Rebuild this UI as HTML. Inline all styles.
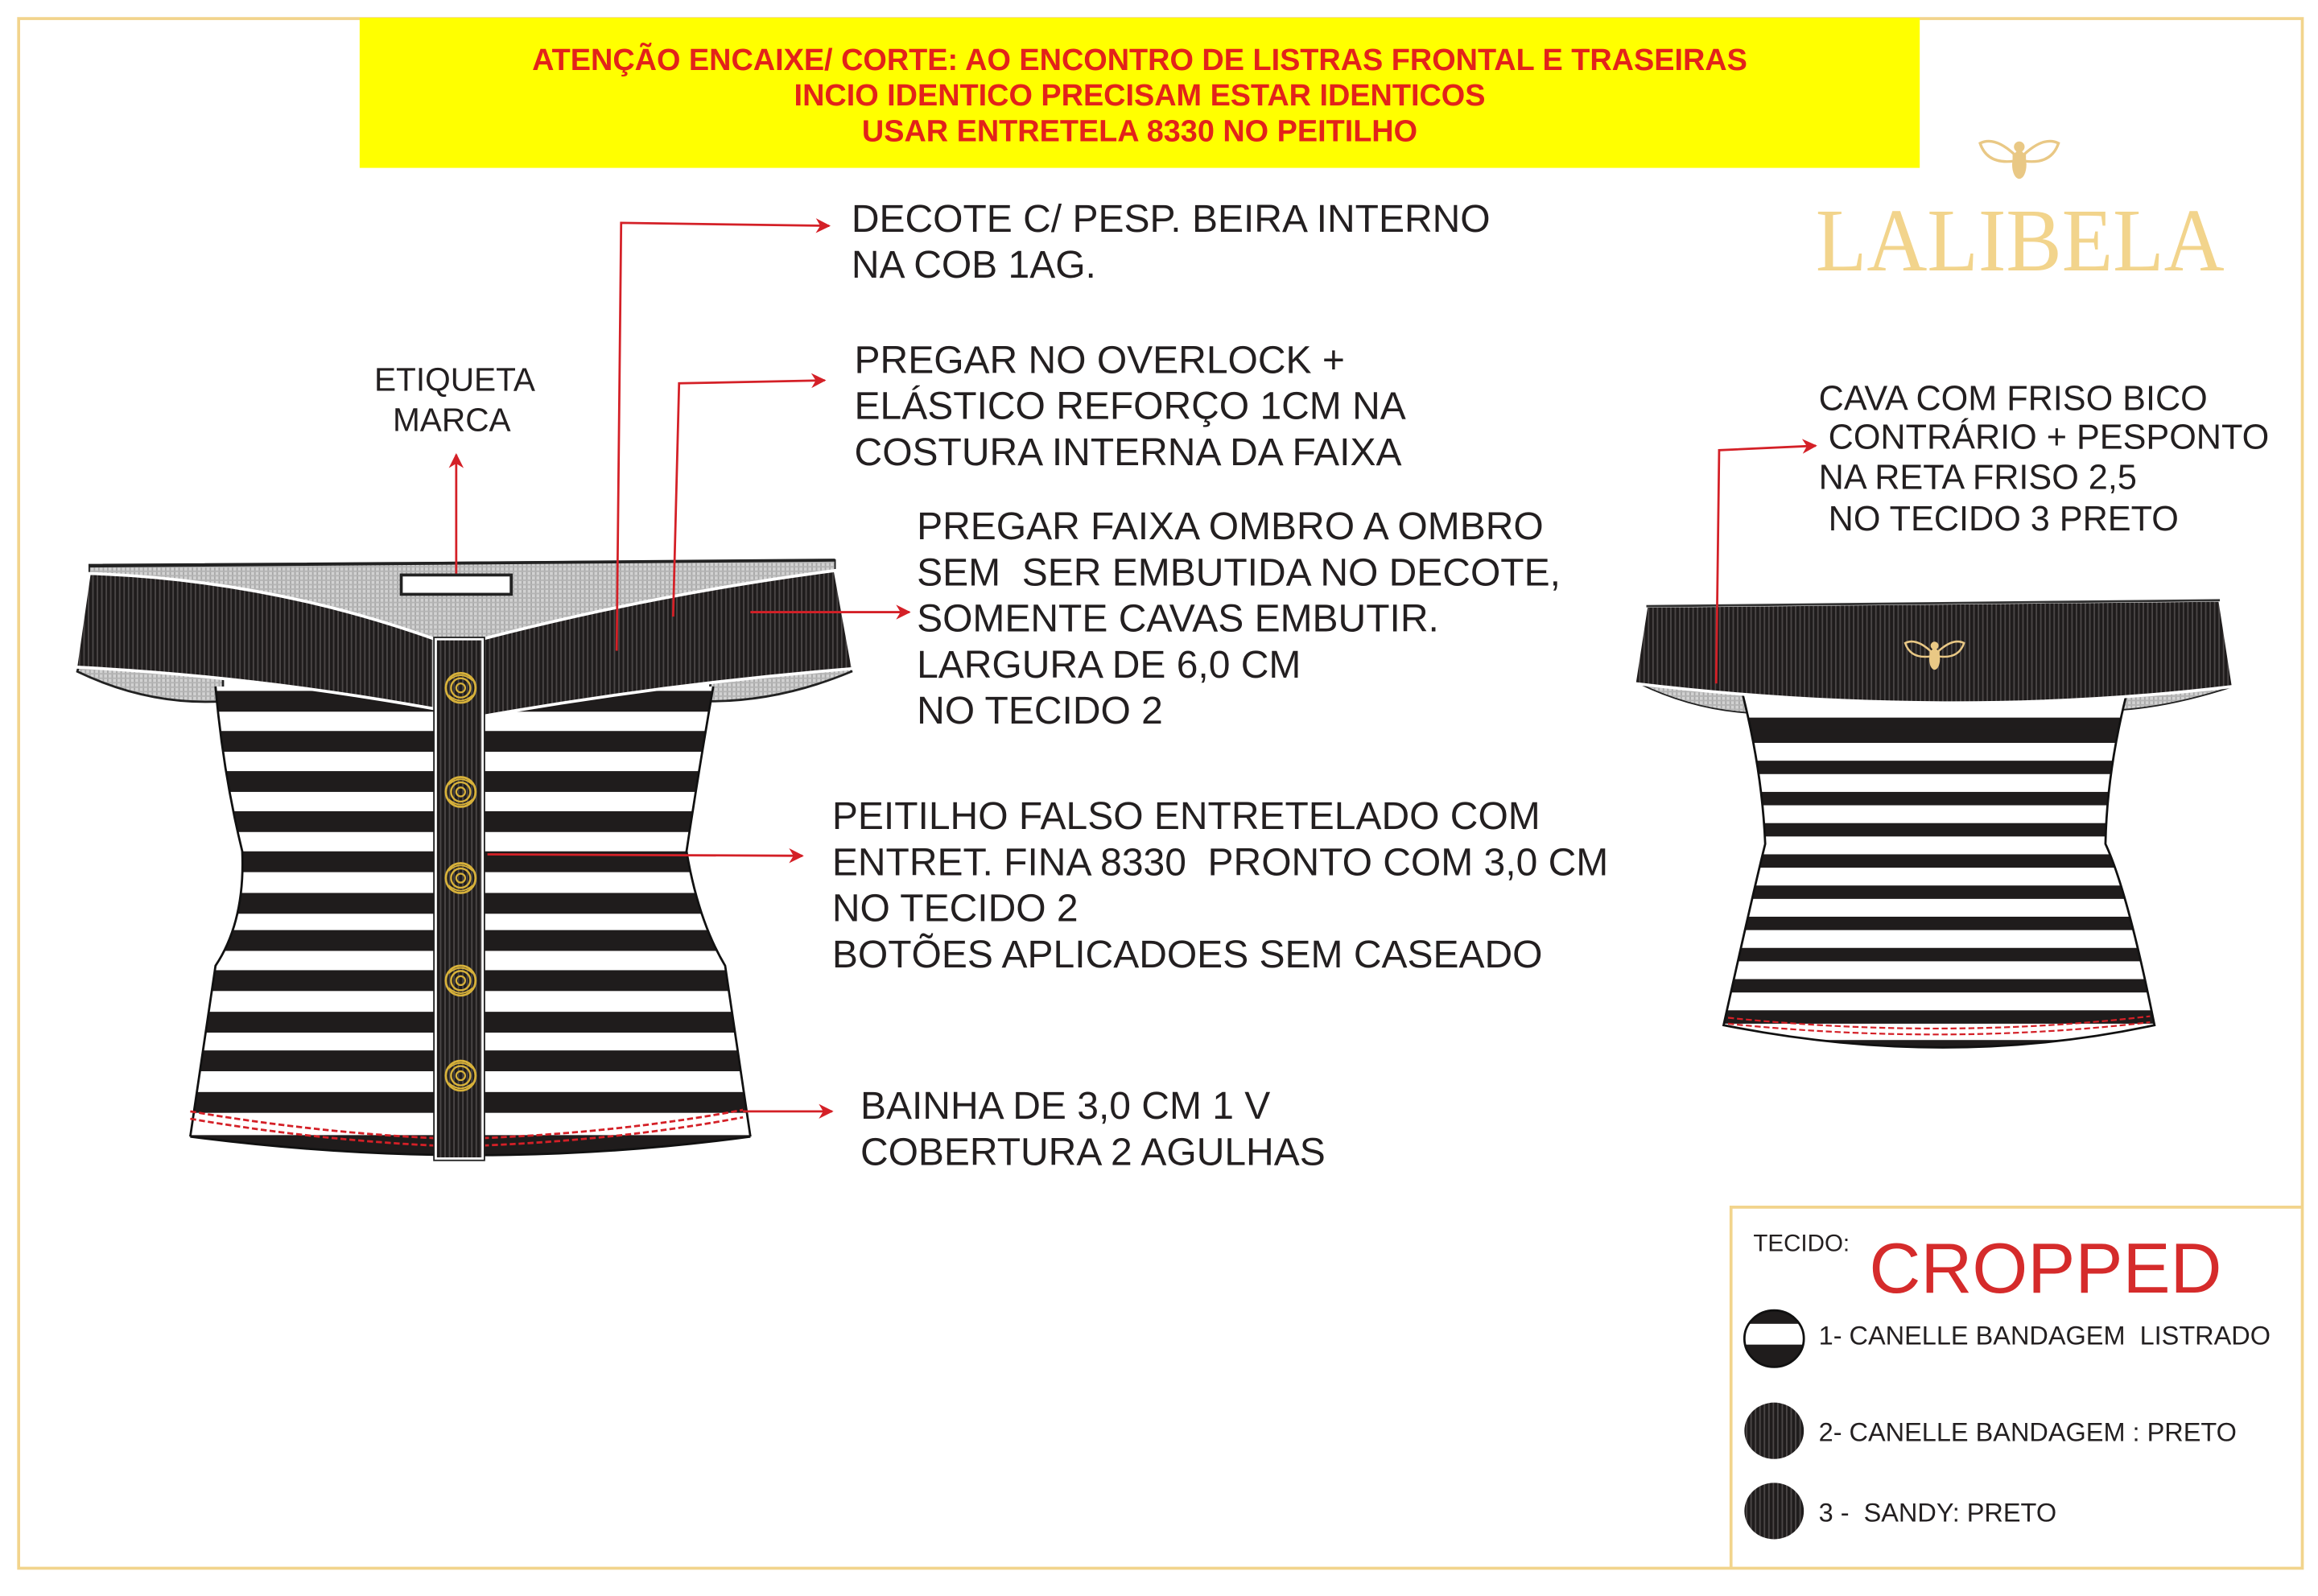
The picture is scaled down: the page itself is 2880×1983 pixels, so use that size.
<!DOCTYPE html>
<html><head><meta charset="utf-8"><style>
html,body{margin:0;padding:0;background:#fff;}
svg{display:block;}
</style></head><body>
<svg width="2880" height="1983" viewBox="0 0 1560 1074.2" xmlns="http://www.w3.org/2000/svg" font-family="Liberation Sans, sans-serif">
<defs>
<pattern id="rib" width="3" height="10" patternUnits="userSpaceOnUse">
<rect width="3" height="10" fill="#1f1c1c"/><rect x="2" width="1" height="10" fill="#4a4646"/>
</pattern>
<pattern id="grid" width="3" height="3" patternUnits="userSpaceOnUse">
<rect width="3" height="3" fill="#d2d2d2"/><rect width="1" height="3" fill="#a8a8a8"/><rect width="3" height="1" fill="#b4b4b4"/>
</pattern>
<marker id="ar" markerWidth="10" markerHeight="10" refX="9" refY="5" orient="auto" markerUnits="userSpaceOnUse">
<path d="M0,0 L10,5 L0,10 L3,5 Z" fill="#d42027"/>
</marker>
<clipPath id="bodyF"><path d="M145,462 L480,462 Q470,520 462,573 Q470,620 488,650 L505,765 Q320,790 128,765 L145,650 Q165,620 163,573 Q150,520 145,462 Z"/></clipPath>
<clipPath id="bodyB"><path d="M1173,468 L1431,468 Q1418,520 1417,568 Q1432,600 1450,690 Q1310,720 1160,690 Q1180,600 1188,568 Q1186,520 1173,468 Z"/></clipPath>
<g id="rose"><circle r="10" fill="none" stroke="#d7b13a" stroke-width="1.5"/><circle r="6.5" fill="none" stroke="#d7b13a" stroke-width="1.3"/><circle r="3" fill="none" stroke="#d7b13a" stroke-width="1.2"/><path d="M-8,-5 Q0,-12 8,-5 M-8,5 Q0,12 8,5" fill="none" stroke="#d7b13a" stroke-width="1"/></g>
<g id="bee" fill="#e9c885"><ellipse cx="0" cy="4" rx="4" ry="8"/><circle cx="0" cy="-6" r="3"/><path d="M-3,-2 Q-14,-12 -22,-8 Q-18,4 -3,2 Z M3,-2 Q14,-12 22,-8 Q18,4 3,2 Z" fill="none" stroke="#e9c885" stroke-width="1.5"/></g>
</defs>

<rect x="12.5" y="12.5" width="1537" height="1043" fill="none" stroke="#f2d48c" stroke-width="2"/>
<rect x="242" y="12" width="1050" height="101" fill="#ffff00"/>
<g font-weight="bold" font-size="20.5" fill="#e2231a" text-anchor="middle">
<text x="767" y="47">ATENÇÃO ENCAIXE/ CORTE: AO ENCONTRO DE LISTRAS FRONTAL E TRASEIRAS</text>
<text x="767" y="71">INCIO IDENTICO PRECISAM ESTAR IDENTICOS</text>
<text x="767" y="95">USAR ENTRETELA 8330 NO PEITILHO</text>
</g>

<use href="#bee" transform="translate(1359,106) scale(1.2)"/>
<text x="1222" y="182" style="font-family:'Liberation Serif',serif" font-size="60" fill="#f2d48c" textLength="275" lengthAdjust="spacingAndGlyphs">LALIBELA</text>

<path d="M52,452 Q100,475 150,472 L150,440 L60,420 Z" fill="url(#grid)" stroke="#222" stroke-width="1.5"/>
<path d="M573,452 Q525,472 478,472 L478,440 L565,420 Z" fill="url(#grid)" stroke="#222" stroke-width="1.5"/>
<g clip-path="url(#bodyF)">
<rect x="120" y="455" width="400" height="330" fill="#fff"/>
<g fill="#1f1c1c">
<rect x="120" y="465" width="400" height="14"/><rect x="120" y="492" width="400" height="14"/>
<rect x="120" y="519" width="400" height="14"/><rect x="120" y="546" width="400" height="14"/>
<rect x="120" y="573" width="400" height="14"/><rect x="120" y="601" width="400" height="14"/>
<rect x="120" y="626" width="400" height="14"/><rect x="120" y="653" width="400" height="14"/>
<rect x="120" y="681" width="400" height="14"/><rect x="120" y="707" width="400" height="14"/>
<rect x="120" y="735" width="400" height="14"/><rect x="120" y="764" width="400" height="20"/>
</g>
</g>
<path d="M145,462 Q150,520 163,573 Q165,620 145,650 L128,765 M480,462 Q470,520 462,573 Q470,620 488,650 L505,765" fill="none" stroke="#111" stroke-width="1.5"/>
<path d="M128,765 Q320,790 505,765" fill="none" stroke="#111" stroke-width="1.5"/>
<path d="M128,748 Q210,762 292,766 M325,766 Q420,762 500,747" fill="none" stroke="#d42027" stroke-width="1.5" stroke-dasharray="4,2"/>
<path d="M128,753 Q210,767 292,771 M325,771 Q420,767 500,752" fill="none" stroke="#d42027" stroke-width="1.5" stroke-dasharray="4,2"/>
<path d="M60,380 L562,377 L562,384 Q440,400 325,430 L292,430 Q180,390 60,386 Z" fill="url(#grid)" stroke="#222" stroke-width="1"/>
<path d="M60,386 Q180,390 292,430 L292,477 Q170,455 51,449 Z" fill="url(#rib)" stroke="#fff" stroke-width="2"/>
<path d="M325,430 Q440,400 562,384 L574,450 Q450,460 325,482 Z" fill="url(#rib)" stroke="#fff" stroke-width="2"/>
<path d="M60,381 L562,377" stroke="#222" stroke-width="2"/>
<rect x="270" y="387" width="74" height="13" fill="#fff" stroke="#222" stroke-width="2"/>
<rect x="293" y="430" width="32" height="350" fill="url(#rib)" stroke="#fff" stroke-width="2"/>
<rect x="292" y="429" width="34" height="352" fill="none" stroke="#222" stroke-width="1"/>
<use href="#rose" x="310" y="463"/><use href="#rose" x="310" y="533"/><use href="#rose" x="310" y="591"/><use href="#rose" x="310" y="660"/><use href="#rose" x="310" y="724"/>

<path d="M1103,460 Q1140,478 1180,480 L1180,455 Z" fill="url(#grid)" stroke="#222" stroke-width="1"/>
<path d="M1503,462 Q1460,476 1425,478 L1425,455 Z" fill="url(#grid)" stroke="#222" stroke-width="1"/>
<g clip-path="url(#bodyB)">
<rect x="1150" y="460" width="310" height="260" fill="#fff"/>
<g fill="#1f1c1c">
<rect x="1150" y="483" width="310" height="9"/><rect x="1150" y="491" width="310" height="9"/>
<rect x="1150" y="512" width="310" height="9"/><rect x="1150" y="533" width="310" height="9"/>
<rect x="1150" y="554" width="310" height="9"/><rect x="1150" y="575" width="310" height="9"/>
<rect x="1150" y="596" width="310" height="9"/><rect x="1150" y="617" width="310" height="9"/>
<rect x="1150" y="638" width="310" height="9"/><rect x="1150" y="659" width="310" height="9"/>
<rect x="1150" y="680" width="310" height="9"/><rect x="1150" y="700" width="310" height="20"/>
</g>
</g>
<path d="M1173,468 Q1186,520 1188,568 Q1180,600 1160,690 Q1310,720 1450,690 Q1432,600 1417,568 Q1418,520 1431,468" fill="none" stroke="#111" stroke-width="1.5"/>
<path d="M1163,685 Q1310,700 1447,684 M1163,689 Q1310,704 1447,688" fill="none" stroke="#d42027" stroke-width="1.2" stroke-dasharray="4,2"/>
<path d="M1108,408 L1494,404 L1503,462 Q1310,485 1100,460 Z" fill="url(#rib)" stroke="#fff" stroke-width="2"/>
<path d="M1108,408 L1494,404" stroke="#333" stroke-width="1.5"/>
<use href="#bee" transform="translate(1302,440) scale(0.9)"/>

<g stroke="#d42027" stroke-width="1.5" fill="none">
<path d="M415,438 L418,150 L558,152" marker-end="url(#ar)"/>
<path d="M453,415 L457,258 L555,256" marker-end="url(#ar)"/>
<path d="M505,412 L612,412" marker-end="url(#ar)"/>
<path d="M328,575 L540,576" marker-end="url(#ar)"/>
<path d="M500,748 L560,748" marker-end="url(#ar)"/>
<path d="M307,386 L307,306" marker-end="url(#ar)"/>
<path d="M1155,460 L1157,303 L1222,300" marker-end="url(#ar)"/>
</g>
<g font-size="26" fill="#231f20">
<text x="573" y="156">DECOTE C/ PESP. BEIRA INTERNO</text>
<text x="573" y="187">NA COB 1AG.</text>
<text x="575" y="251">PREGAR NO OVERLOCK +</text>
<text x="575" y="282">ELÁSTICO REFORÇO 1CM NA</text>
<text x="575" y="313">COSTURA INTERNA DA FAIXA</text>
<text x="617" y="363">PREGAR FAIXA OMBRO A OMBRO</text>
<text x="617" y="394" xml:space="preserve">SEM  SER EMBUTIDA NO DECOTE,</text>
<text x="617" y="425">SOMENTE CAVAS EMBUTIR.</text>
<text x="617" y="456">LARGURA DE 6,0 CM</text>
<text x="617" y="487">NO TECIDO 2</text>
<text x="560" y="558">PEITILHO FALSO ENTRETELADO COM</text>
<text x="560" y="589" xml:space="preserve">ENTRET. FINA 8330  PRONTO COM 3,0 CM</text>
<text x="560" y="620">NO TECIDO 2</text>
<text x="560" y="651">BOTÕES APLICADOES SEM CASEADO</text>
<text x="579" y="753">BAINHA DE 3,0 CM 1 V</text>
<text x="579" y="784">COBERTURA 2 AGULHAS</text>
</g>
<g font-size="22" fill="#231f20">
<text x="306" y="263" text-anchor="middle">ETIQUETA</text>
<text x="304" y="290" text-anchor="middle">MARCA</text>
</g>
<g font-size="23.4" fill="#231f20">
<text x="1224" y="276">CAVA COM FRISO BICO</text>
<text x="1224" y="302" xml:space="preserve"> CONTRÁRIO + PESPONTO</text>
<text x="1224" y="329">NA RETA FRISO 2,5</text>
<text x="1224" y="357" xml:space="preserve"> NO TECIDO 3 PRETO</text>
</g>

<path d="M1165,1056 L1165,812.5 L1550,812.5" fill="none" stroke="#f2d48c" stroke-width="2"/>
<text x="1180" y="842" font-size="16" fill="#231f20">TECIDO:</text>
<text x="1258" y="870" font-size="48" fill="#d52b2b">CROPPED</text>
<clipPath id="c1"><ellipse cx="1194" cy="901" rx="20" ry="19"/></clipPath>
<g clip-path="url(#c1)"><rect x="1170" y="880" width="50" height="44" fill="#1f1c1c"/><rect x="1170" y="891" width="50" height="14" fill="#fff"/></g>
<ellipse cx="1194" cy="901" rx="20" ry="19" fill="none" stroke="#111" stroke-width="1.5"/>
<ellipse cx="1194" cy="963" rx="20" ry="19" fill="url(#rib)"/>
<ellipse cx="1194" cy="1017" rx="20" ry="19" fill="url(#rib)"/>
<g font-size="17.6" fill="#231f20">
<text x="1224" y="905" xml:space="preserve">1- CANELLE BANDAGEM  LISTRADO</text>
<text x="1224" y="970">2- CANELLE BANDAGEM : PRETO</text>
<text x="1224" y="1024" xml:space="preserve">3 -  SANDY: PRETO</text>
</g>
</svg>
</body></html>
